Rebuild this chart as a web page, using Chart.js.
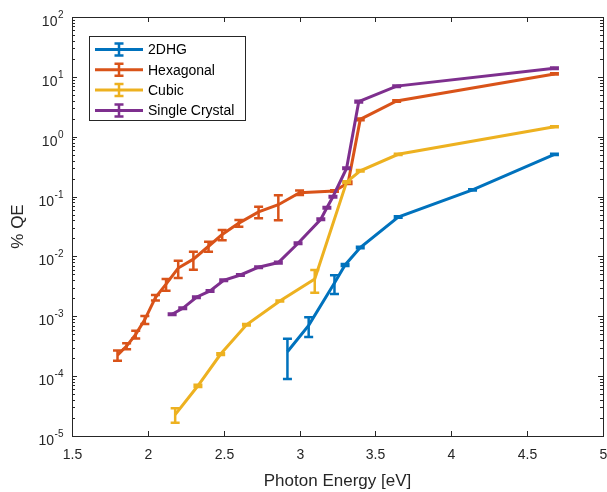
<!DOCTYPE html>
<html>
<head>
<meta charset="utf-8">
<script src="https://cdn.jsdelivr.net/npm/chart.js@4.4.1/dist/chart.umd.min.js"></script>
<style>
    body { margin: 0; background: #fff; }
    canvas { display: block; }
</style>
</head>
<body>
<canvas id="myChart" width="607" height="492"></canvas>
<script>
// ============================================================================
// データ
// ============================================================================

const xTicks = [1.5, 2, 2.5, 3, 3.5, 4, 4.5, 5];
const xTickLabels = ["1.5", "2", "2.5", "3", "3.5", "4", "4.5", "5"];
const yTickExps = [-5, -4, -3, -2, -1, 0, 1, 2];

const seriesNames = ["2DHG", "Hexagonal", "Cubic", "Single Crystal"];

// 2DHG
const dhgE = [2.92, 3.06, 3.23, 3.30, 3.40, 3.65, 4.14, 4.68];
const dhgQE = [2.55e-4, 7.05e-4, 3.6e-3, 7.2e-3, 1.41e-2, 4.56e-2, 0.129, 0.508];
const dhgErr = [1.65e-4, 2.55e-4, 1.25e-3, 3e-4, 4e-4, 1.2e-3, 3e-3, 1.2e-2];

// Hexagonal
const hexE = [1.80, 1.86, 1.92, 1.98, 2.05, 2.12, 2.20, 2.30, 2.40, 2.49, 2.60, 2.73, 2.86, 3.00, 3.23, 3.32, 3.40, 3.64, 4.68];
const hexQE = [2.24e-4, 3.18e-4, 5.0e-4, 8.8e-4, 2.05e-3, 3.44e-3, 6.4e-3, 9.0e-3, 1.48e-2, 2.32e-2, 3.6e-2, 5.56e-2, 7.3e-2, 0.116, 0.124, 0.17, 1.95, 3.95, 11.2];
const hexErr = [4.3e-5, 3.7e-5, 7.3e-5, 1.35e-4, 2.2e-4, 7.6e-4, 2.05e-3, 3.0e-3, 2.8e-3, 4.5e-3, 4.6e-3, 1.22e-2, 3.27e-2, 1.0e-2, 4e-3, 8e-3, 6e-2, 0.1, 0.3];

// Cubic
const cubE = [2.18, 2.33, 2.48, 2.65, 2.87, 3.10, 3.31, 3.40, 3.65, 4.68];
const cubQE = [2.28e-5, 6.9e-5, 2.34e-4, 7.2e-4, 1.8e-3, 4.2e-3, 0.175, 0.27, 0.508, 1.47];
const cubErr = [6.2e-6, 3e-6, 8e-6, 2e-5, 4e-5, 1.72e-3, 5e-3, 8e-3, 1.2e-2, 3e-2];

// Single Crystal
const scE = [2.16, 2.23, 2.32, 2.41, 2.50, 2.61, 2.73, 2.86, 2.99, 3.14, 3.18, 3.22, 3.31, 3.39, 3.64, 4.68];
const scQE = [1.08e-3, 1.36e-3, 2.08e-3, 2.65e-3, 4.0e-3, 4.9e-3, 6.6e-3, 7.9e-3, 1.66e-2, 4.17e-2, 6.5e-2, 9.95e-2, 0.297, 3.85, 7.0, 13.9];
const scErr = [3e-5, 4e-5, 6e-5, 8e-5, 1.2e-4, 1.5e-4, 2e-4, 2.5e-4, 5e-4, 1.2e-3, 2e-3, 3e-3, 9e-3, 0.12, 0.2, 0.4];

const colors = ["#0072BD", "#D95319", "#EDB120", "#7E2F8E"];


// ============================================================================
// 描画設定
// ============================================================================

const FONT = "'Liberation Sans', Arial, sans-serif";
const AXIS_COLOR = "#262626";

const toPoints = (xs, ys) => xs.map((x, i) => ({ x: x, y: ys[i] }));

const allE = [dhgE, hexE, cubE, scE];
const allQE = [dhgQE, hexQE, cubQE, scQE];
const allErr = [dhgErr, hexErr, cubErr, scErr];

const datasets = seriesNames.map((name, i) => ({
    label: name,
    data: toPoints(allE[i], allQE[i]),
    errors: allErr[i],
    borderColor: colors[i],
    backgroundColor: colors[i],
    borderWidth: 3,
    pointRadius: 0,
    tension: 0,
    // MATLABと同じく後のシリーズを上に描く
    order: seriesNames.length - i,
}));

// エラーバー
const errorBarPlugin = {
    id: "errorBars",
    afterDatasetDraw: (chart, args) => {
        const ds = chart.data.datasets[args.index];
        const x = chart.scales.x;
        const y = chart.scales.y;
        const c = chart.ctx;
        c.save();
        c.strokeStyle = ds.borderColor;
        c.lineWidth = 2.5;
        ds.data.forEach((p, i) => {
            const e = ds.errors[i];
            const px = x.getPixelForValue(p.x);
            const top = y.getPixelForValue(p.y + e);
            const bot = y.getPixelForValue(Math.max(p.y - e, 1e-6));
            c.beginPath();
            c.moveTo(px, top);
            c.lineTo(px, bot);
            c.moveTo(px - 4.5, top);
            c.lineTo(px + 4.5, top);
            c.moveTo(px - 4.5, bot);
            c.lineTo(px + 4.5, bot);
            c.stroke();
        });
        c.restore();
    },
};

// 軸・目盛・凡例(MATLAB風)
const axesPlugin = {
    id: "matlabAxes",
    afterDraw: (chart) => {
        const c = chart.ctx;
        const a = chart.chartArea;
        const x = chart.scales.x;
        const y = chart.scales.y;
        c.save();

        // 枠
        c.strokeStyle = AXIS_COLOR;
        c.lineWidth = 1;
        c.strokeRect(Math.round(a.left) + 0.5, Math.round(a.top) + 0.5, Math.round(a.right - a.left), Math.round(a.bottom - a.top));

        // x目盛
        c.fillStyle = AXIS_COLOR;
        c.font = "14px " + FONT;
        c.textAlign = "center";
        c.textBaseline = "top";
        c.beginPath();
        xTicks.forEach((v, i) => {
            const px = Math.round(x.getPixelForValue(v)) + 0.5;
            c.moveTo(px, a.bottom);
            c.lineTo(px, a.bottom - 5);
            c.moveTo(px, a.top);
            c.lineTo(px, a.top + 5);
            c.fillText(xTickLabels[i], px, a.bottom + 12);
        });

        // y目盛(主目盛と副目盛)
        yTickExps.forEach((n) => {
            const py = Math.round(y.getPixelForValue(Math.pow(10, n))) + 0.5;
            c.moveTo(a.left, py);
            c.lineTo(a.left + 5, py);
            c.moveTo(a.right, py);
            c.lineTo(a.right - 5, py);
            if (n < 2) {
                for (let k = 2; k <= 9; k++) {
                    const my = Math.round(y.getPixelForValue(k * Math.pow(10, n))) + 0.5;
                    c.moveTo(a.left, my);
                    c.lineTo(a.left + 3, my);
                    c.moveTo(a.right, my);
                    c.lineTo(a.right - 3, my);
                }
            }
        });
        c.stroke();

        // y目盛ラベル 10^n
        c.textAlign = "left";
        c.textBaseline = "alphabetic";
        yTickExps.forEach((n) => {
            const py = y.getPixelForValue(Math.pow(10, n));
            const exp = String(n);
            c.font = "14px " + FONT;
            const wBase = c.measureText("10").width;
            c.font = "10px " + FONT;
            const wExp = c.measureText(exp).width;
            const x0 = a.left - 9 - wBase - wExp;
            c.font = "14px " + FONT;
            c.fillText("10", x0, py + 9);
            c.font = "10px " + FONT;
            c.fillText(exp, x0 + wBase + 0.5, py + 1);
        });

        // 軸タイトル
        c.font = "17px " + FONT;
        c.textAlign = "center";
        c.textBaseline = "middle";
        c.fillText("Photon Energy [eV]", (a.left + a.right) / 2, 481);
        c.save();
        c.translate(18, (a.top + a.bottom) / 2);
        c.rotate(-Math.PI / 2);
        c.fillText("% QE", 0, 0);
        c.restore();

        // 凡例
        const lx = 89.5, ly = 36.5, lw = 156, lh = 84;
        c.fillStyle = "#fff";
        c.fillRect(lx, ly, lw, lh);
        c.strokeStyle = AXIS_COLOR;
        c.lineWidth = 1;
        c.strokeRect(lx, ly, lw, lh);
        chart.data.datasets.forEach((ds, i) => {
            const cy = 49.5 + i * 20.3;
            c.strokeStyle = ds.borderColor;
            c.lineWidth = 3;
            c.beginPath();
            c.moveTo(95, cy);
            c.lineTo(143, cy);
            c.stroke();
            c.lineWidth = 2.5;
            c.beginPath();
            c.moveTo(119, cy - 6);
            c.lineTo(119, cy + 6);
            c.moveTo(114.5, cy - 6);
            c.lineTo(123.5, cy - 6);
            c.moveTo(114.5, cy + 6);
            c.lineTo(123.5, cy + 6);
            c.stroke();
            c.fillStyle = "#000";
            c.font = "14px " + FONT;
            c.textAlign = "left";
            c.textBaseline = "middle";
            c.fillText(ds.label, 148, cy + 1);
        });

        c.restore();
    },
};


// ============================================================================
// Chart.js
// ============================================================================

const ctx = document.getElementById("myChart");

new Chart(ctx, {
    type: "line",
    data: { datasets: datasets },
    options: {
        responsive: false,
        animation: false,
        layout: {
            padding: { left: 72, top: 17, right: 4, bottom: 56 },
        },
        plugins: {
            legend: { display: false },
            tooltip: { enabled: false },
        },
        scales: {
            x: {
                type: "linear",
                min: 1.5,
                max: 5,
                display: false,
            },
            y: {
                type: "logarithmic",
                min: 1e-5,
                max: 1e2,
                display: false,
            },
        },
    },
    plugins: [errorBarPlugin, axesPlugin],
});
</script>
</body>
</html>
